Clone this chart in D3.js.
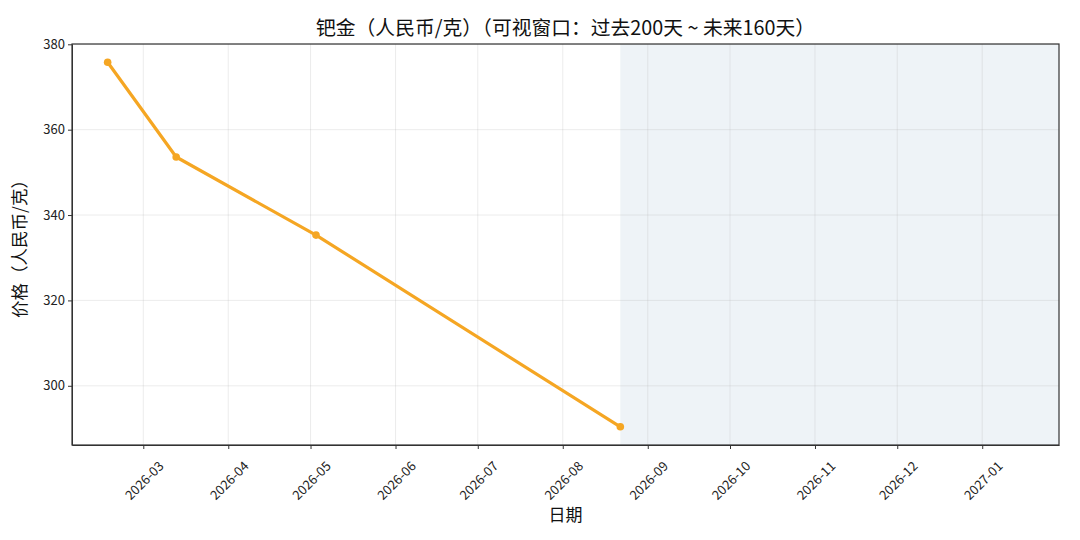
<!DOCTYPE html>
<html><head><meta charset="utf-8">
<script src="https://cdn.jsdelivr.net/npm/d3@7"></script>
<style>body{margin:0;background:#fff}svg{display:block}text{font-family:"Noto Sans CJK SC","DejaVu Sans",sans-serif}</style>
</head><body>
<svg id="c" width="1080" height="540"></svg>
<script>
const dates = ["2026-02-16","2026-03-13","2026-05-03","2026-08-22"];
const prices = [375.8, 353.6, 335.3, 290.4];
const windowStart = "2026-02-03";
const today = "2026-08-22";
const windowEnd = "2027-01-29";
const yTicks = [300, 320, 340, 360, 380];
const title = "钯金（人民币/克）（可视窗口：过去200天 ~ 未来160天）";
const xLabel = "日期";
const yLabel = "价格（人民币/克）";

const parse = d3.utcParse("%Y-%m-%d");
const data = dates.map((d,i)=>({date:parse(d), v:prices[i]}));
const W=1080,H=540, m={l:72,r:21,t:44,b:95};
const svg=d3.select("#c");
const x=d3.scaleUtc().domain([parse(windowStart),parse(windowEnd)]).range([m.l,W-m.r]);
const ext=d3.extent(prices), pad=(ext[1]-ext[0])*0.05;
const y=d3.scaleLinear().domain([ext[0]-pad,ext[1]+pad]).range([H-m.b,m.t]);

// shade future
svg.append("rect").attr("x",x(parse(today))).attr("y",m.t)
  .attr("width",x(parse(windowEnd))-x(parse(today))).attr("height",H-m.b-m.t)
  .attr("fill","#eef3f7");

const xt = d3.utcMonth.range(d3.utcMonth.ceil(parse(windowStart)), parse(windowEnd));
// grid
svg.append("g").selectAll("line").data(xt).join("line")
  .attr("x1",d=>x(d)).attr("x2",d=>x(d)).attr("y1",m.t).attr("y2",H-m.b)
  .attr("stroke","#b0b0b0").attr("stroke-opacity",0.3).attr("stroke-width",0.8);
svg.append("g").selectAll("line").data(yTicks).join("line")
  .attr("x1",m.l).attr("x2",W-m.r).attr("y1",d=>y(d)).attr("y2",d=>y(d))
  .attr("stroke","#b0b0b0").attr("stroke-opacity",0.3).attr("stroke-width",0.8);

// line
svg.append("path").datum(data).attr("fill","none").attr("stroke","#f5a623")
  .attr("stroke-width",3.2).attr("stroke-linejoin","round")
  .attr("d",d3.line().x(d=>x(d.date)).y(d=>y(d.v)));
svg.append("g").selectAll("circle").data(data).join("circle")
  .attr("cx",d=>x(d.date)).attr("cy",d=>y(d.v)).attr("r",3.8).attr("fill","#f5a623");

// axes
const gx=svg.append("g").attr("transform",`translate(0,${H-m.b})`)
  .call(d3.axisBottom(x).tickValues(xt).tickFormat(d3.utcFormat("%Y-%m")).tickSize(4).tickSizeOuter(0));
gx.selectAll("text").attr("y",null).attr("dy",null)
  .attr("transform","translate(0,35) rotate(-45)").attr("text-anchor","middle")
  .attr("dominant-baseline","central").attr("font-size",13).attr("fill","#222");
const gy=svg.append("g").attr("transform",`translate(${m.l},0)`)
  .call(d3.axisLeft(y).tickValues(yTicks).tickSize(4).tickSizeOuter(0));
gy.selectAll("text").attr("font-size",13).attr("fill","#222");
[gx,gy].forEach(g=>{g.selectAll("line").attr("stroke","#333");g.select(".domain").attr("stroke","#333");g.attr("font-family",null)});
// frame
svg.append("rect").attr("x",m.l).attr("y",m.t).attr("width",W-m.r-m.l).attr("height",H-m.b-m.t)
  .attr("fill","none").attr("stroke","#333").attr("stroke-width",1.2);

svg.append("text").attr("x",(m.l+W-m.r)/2).attr("y",35).attr("text-anchor","middle")
  .attr("font-size",19.8).attr("fill","#111").text(title);
svg.append("text").attr("x",(m.l+W-m.r)/2).attr("y",521).attr("text-anchor","middle")
  .attr("font-size",17).attr("fill","#111").text(xLabel);
svg.append("text").attr("transform",`translate(26,${(m.t+H-m.b)/2}) rotate(-90)`).attr("text-anchor","middle")
  .attr("font-size",17.5).attr("fill","#111").text(yLabel);
</script>
</body></html>
